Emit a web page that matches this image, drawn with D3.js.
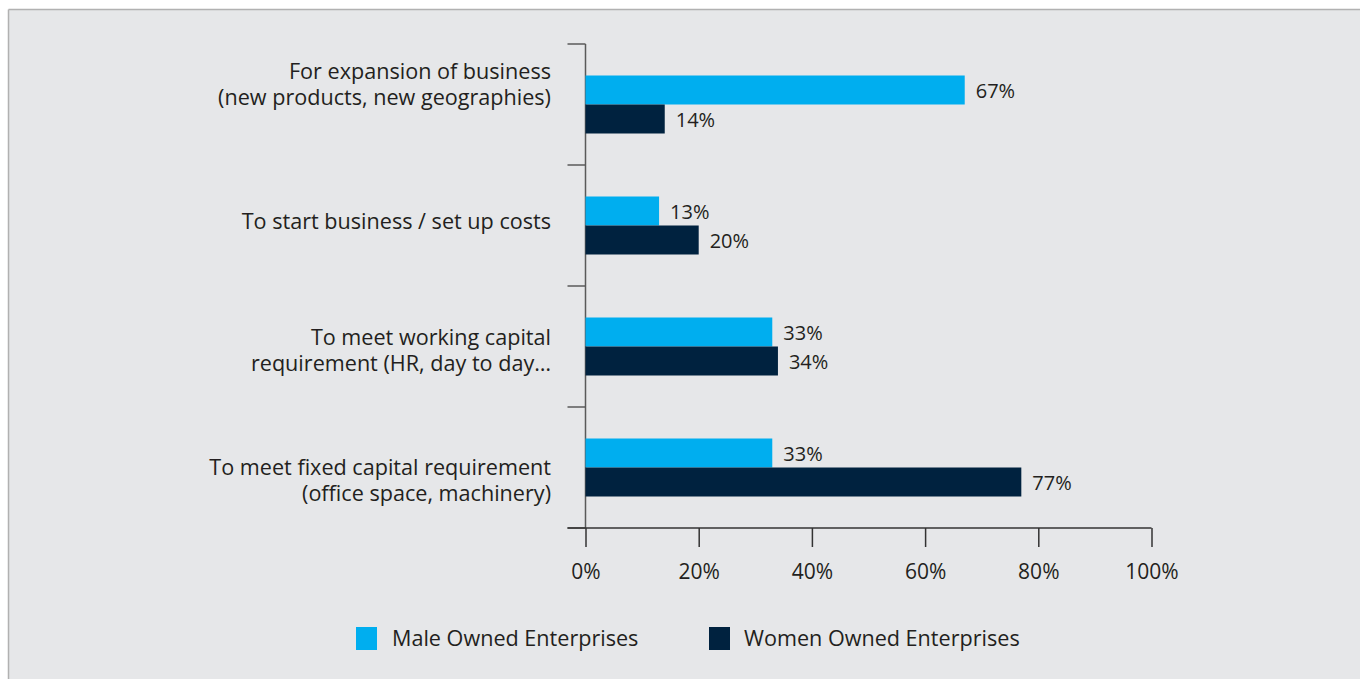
<!DOCTYPE html>
<html>
<head>
<meta charset="utf-8">
<script src="https://cdn.jsdelivr.net/npm/d3@7"></script>
<style>
  html, body { margin: 0; padding: 0; background: #ffffff; }
  svg { display: block; }
  text { font-family: "Open Sans", "Noto Sans", sans-serif; fill: #231f20; }
</style>
</head>
<body>
<svg id="chart" width="1360" height="679"></svg>
<script>
// Purpose of financing, by owner gender (share of enterprises)
const categories = [
  ["For expansion of business", "(new products, new geographies)"],
  ["To start business / set up costs"],
  ["To meet working capital", "requirement (HR, day to day…"],
  ["To meet fixed capital requirement", "(office space, machinery)"]
];
const seriesNames = ["Male Owned Enterprises", "Women Owned Enterprises"];
const maleValues = [67, 13, 33, 33];
const womenValues = [14, 20, 34, 77];
const xTicks = [0, 20, 40, 60, 80, 100];
const colors = ["#00aeef", "#00223f"];

const svg = d3.select("#chart");
const FONT = "'Open Sans', 'Noto Sans', sans-serif";

// panel background with thin top/left rule
svg.append("rect").attr("x", 9).attr("y", 10).attr("width", 1351).attr("height", 669).attr("fill", "#e6e7e9");
svg.append("line").attr("x1", 8.5).attr("x2", 1360).attr("y1", 9.5).attr("y2", 9.5).attr("stroke", "#b1b1b1").attr("stroke-width", 1.5);
svg.append("line").attr("x1", 8.5).attr("x2", 8.5).attr("y1", 9.5).attr("y2", 679).attr("stroke", "#b1b1b1").attr("stroke-width", 1.5);

const plotLeft = 585.5, plotRight = 1151.5, plotTop = 44, plotBottom = 528;

const x = d3.scaleLinear().domain([0, 100]).range([plotLeft, plotRight]);
const y = d3.scaleBand().domain(d3.range(categories.length)).range([plotTop, plotBottom]);
const barH = 29;

// category ticks on the vertical axis (at band boundaries)
const yAxisG = svg.append("g");
yAxisG.append("line").attr("x1", plotLeft).attr("x2", plotLeft).attr("y1", plotTop).attr("y2", plotBottom)
  .attr("stroke", "#5a5a5a").attr("stroke-width", 1.5);
d3.range(categories.length + 1).forEach(i => {
  const yy = plotTop + i * y.step();
  yAxisG.append("line").attr("x1", plotLeft - 18).attr("x2", plotLeft).attr("y1", yy).attr("y2", yy)
    .attr("stroke", "#5a5a5a").attr("stroke-width", 1.5);
});

// category labels (wrapped text blocks sit slightly off the band centre)
const labelShift = [-20, -4, 4, 13];
categories.forEach((lines, i) => {
  const cy = y(i) + y.bandwidth() / 2 + labelShift[i];
  const lh = 26;
  const t = svg.append("text").attr("text-anchor", "end").attr("font-size", 21.6);
  lines.forEach((ln, j) => {
    t.append("tspan").attr("x", 551)
      .attr("y", cy + (j - (lines.length - 1) / 2) * lh + 7.5)
      .text(ln);
  });
});

// x axis
const xAxis = d3.axisBottom(x).tickValues(xTicks).tickFormat(d => d + "%").tickSize(19).tickPadding(17);
const xg = svg.append("g").attr("transform", `translate(0,${plotBottom})`).call(xAxis);
xg.select(".domain").attr("stroke", "#333").attr("stroke-width", 1.5).attr("d", `M${plotLeft - 18},0H${plotRight}`);
xg.selectAll(".tick line").attr("stroke", "#333").attr("stroke-width", 1.5);
xg.selectAll(".tick text").attr("font-size", 21).attr("fill", "#231f20").style("font-family", FONT);

// bars and value labels
const series = [maleValues, womenValues];
series.forEach((vals, s) => {
  const g = svg.append("g");
  vals.forEach((v, i) => {
    const cy = y(i) + y.bandwidth() / 2;
    const by = cy - barH + s * barH;
    g.append("rect").attr("x", x(0)).attr("y", by).attr("width", x(v) - x(0)).attr("height", barH)
      .attr("fill", colors[s]);
    g.append("text").attr("x", x(v) + 11).attr("y", by + barH / 2 + 7.5)
      .attr("font-size", 20).text(v + "%");
  });
});

// legend
const legendItems = [{ x: 356, textX: 392 }, { x: 709, textX: 744 }];
seriesNames.forEach((name, s) => {
  svg.append("rect").attr("x", legendItems[s].x).attr("y", 627).attr("width", 21).attr("height", 23)
    .attr("fill", colors[s]);
  svg.append("text").attr("x", legendItems[s].textX).attr("y", 646).attr("font-size", 21.6).text(name);
});
</script>
</body>
</html>
